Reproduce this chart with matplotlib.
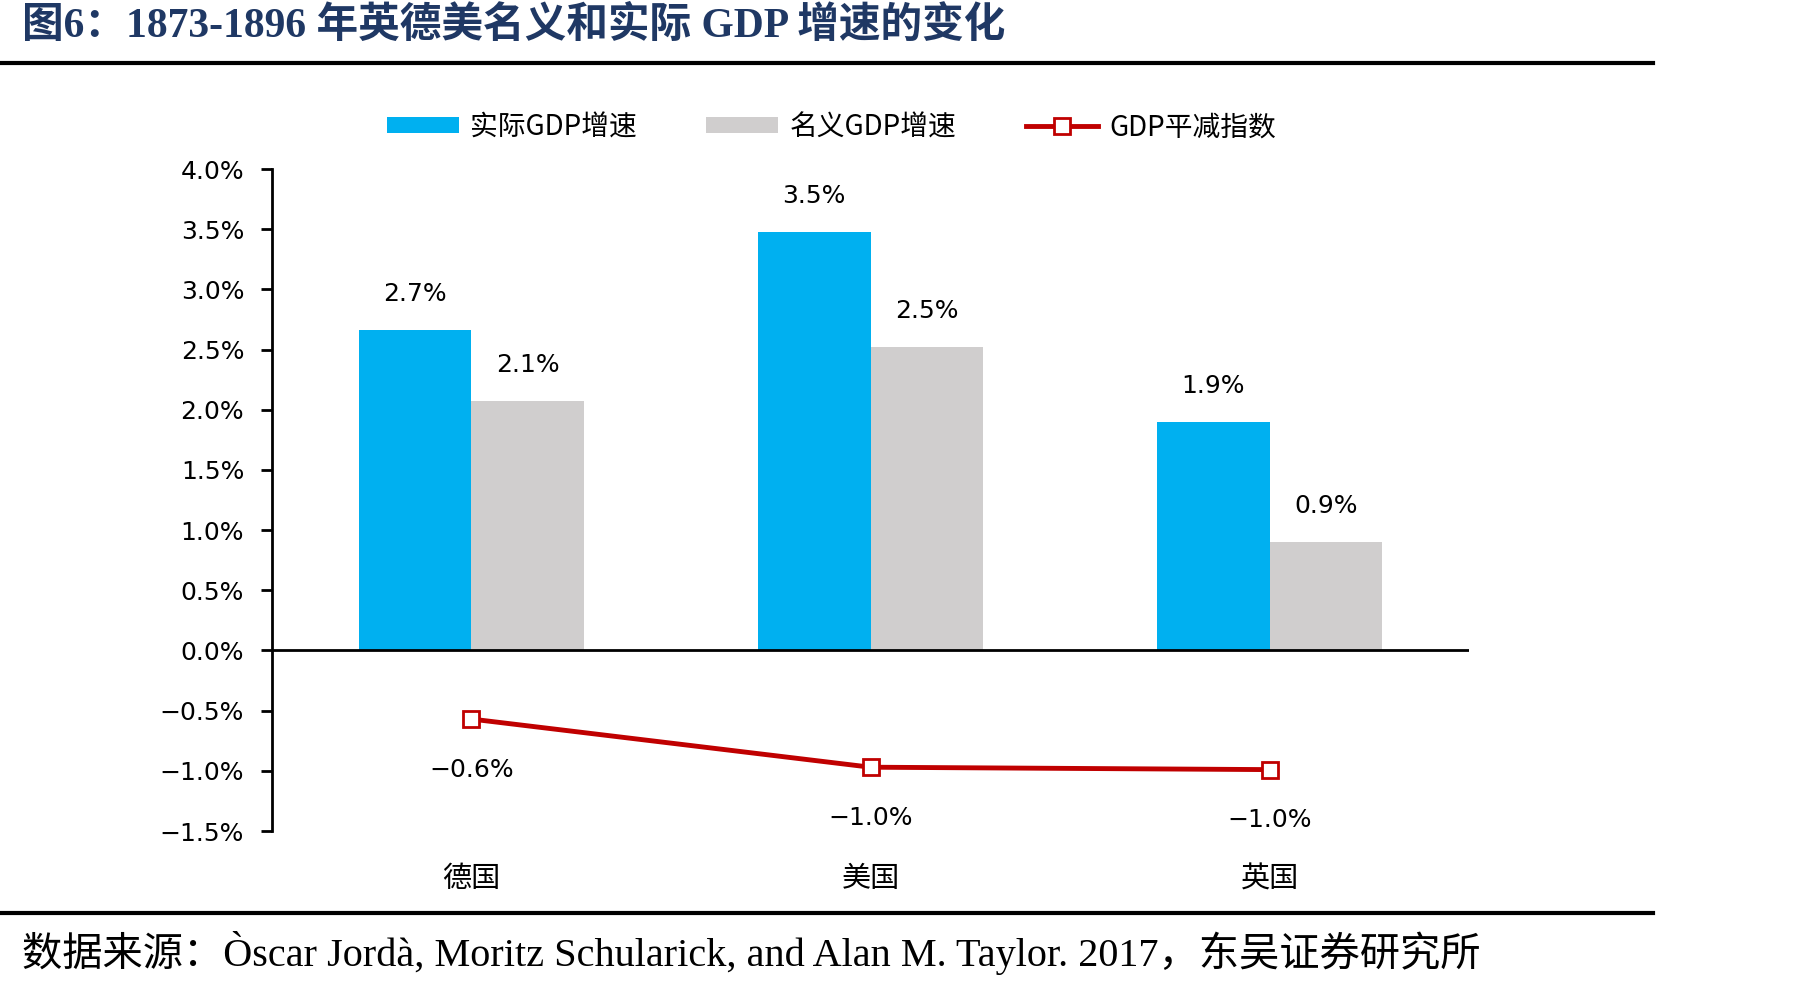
import matplotlib.pyplot as plt
import numpy as np

# 1873-1896 英德美名义和实际GDP增速

countries = ['德国', '美国', '英国']
real_gdp = [2.66, 3.48, 1.90]
nominal_gdp = [2.07, 2.52, 0.90]
deflator = [-0.57, -0.97, -0.99]
yticks = [-1.5, -1.0, -0.5, 0.0, 0.5, 1.0, 1.5, 2.0, 2.5, 3.0, 3.5, 4.0]

cjk = ['Noto Sans CJK SC', 'DejaVu Sans']
num = ['DejaVu Sans']
serif = ['Liberation Serif', 'Noto Sans CJK SC']
plt.rcParams['font.family'] = cjk

blue = '#00B0F0'
gray = '#D0CECE'
red = '#C00000'

fig = plt.figure(figsize=(18.07, 9.86), dpi=100)
ax = fig.add_axes([0.1505, 0.1572, 0.6625, 0.6714])

x = np.arange(len(countries))
w = 0.283
b1 = ax.bar(x - w / 2, real_gdp, w, color=blue, label='实际GDP增速', zorder=2)
b2 = ax.bar(x + w / 2, nominal_gdp, w, color=gray, label='名义GDP增速', zorder=2)
ln, = ax.plot(x, deflator, color=red, lw=3.5, marker='s', markersize=12,
              markerfacecolor='white', markeredgecolor=red, markeredgewidth=2,
              label='GDP平减指数', zorder=4)

ax.axhline(0, color='black', lw=2, zorder=3)

def fmt(v):
    return f'{v:.1f}%'.replace('-', '\u2212')

for xi, v in zip(x - w / 2, real_gdp):
    ax.text(xi, v + 0.2, fmt(v), ha='center', va='bottom', fontsize=18, family=num)
for xi, v in zip(x + w / 2, nominal_gdp):
    ax.text(xi, v + 0.2, fmt(v), ha='center', va='bottom', fontsize=18, family=num)
for xi, v in zip(x, deflator):
    ax.text(xi, v - 0.32, fmt(v), ha='center', va='top', fontsize=18, family=num)

ax.set_xlim(-0.5, 2.5)
ax.set_ylim(-1.5, 4.0)
ax.set_yticks(yticks)
ax.set_yticklabels([fmt(t) for t in yticks], fontsize=18, family=num)
ax.set_xticks(x)
ax.set_xticklabels(countries, fontsize=21)
ax.tick_params(axis='x', length=0, pad=24)
ax.tick_params(axis='y', direction='out', length=8, width=2, pad=12)
for s in ['top', 'right', 'bottom']:
    ax.spines[s].set_visible(False)
ax.spines['left'].set_linewidth(2)

fig.legend(handles=[b1, b2, ln], loc='center', bbox_to_anchor=(0.46, 0.871),
           ncol=3, frameon=False, fontsize=20, handlelength=2.6,
           handleheight=0.5, columnspacing=2.5, handletextpad=0.4)

# title and source
fig.text(0.012, 0.974, '图6：1873-1896 年英德美名义和实际 GDP 增速的变化',
         fontsize=30, fontweight='bold', color='#1F3864', family=serif,
         va='center', ha='left')
fig.add_artist(plt.Line2D([0, 0.915], [0.936, 0.936], color='black', lw=3))
fig.add_artist(plt.Line2D([0, 0.915], [0.074, 0.074], color='black', lw=3))
fig.text(0.012, 0.033,
         '数据来源：Òscar Jordà, Moritz Schularick, and Alan M. Taylor. 2017，东吴证券研究所',
         fontsize=29, family=serif, va='center', ha='left')

fig.savefig('out.png', dpi=100)
